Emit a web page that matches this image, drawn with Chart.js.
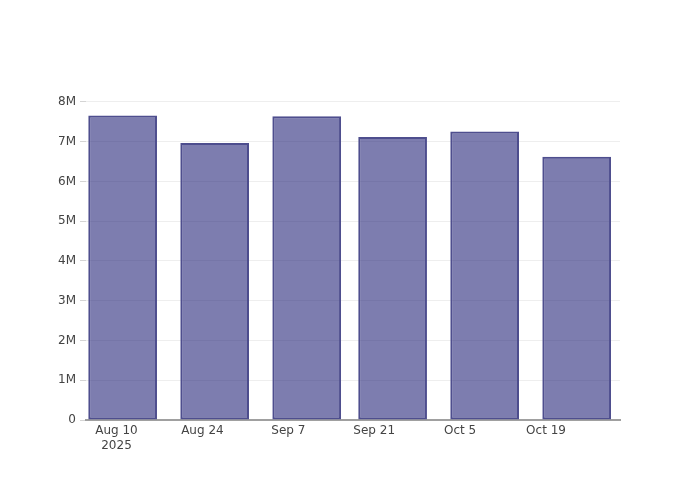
<!DOCTYPE html>
<html>
<head>
<meta charset="utf-8">
<script src="https://cdn.jsdelivr.net/npm/chart.js@4/dist/chart.umd.min.js"></script>
<style>
  body { margin: 0; background: #fff; }
</style>
</head>
<body>
<canvas id="myChart" width="700" height="500"></canvas>
<script>
// bar dates and values
const barDates = ['2025-08-11', '2025-08-26', '2025-09-10', '2025-09-24', '2025-10-09', '2025-10-24'];
const barValues = [7660000, 6970000, 7640000, 7120000, 7260000, 6620000];

// x axis ticks, in days from Aug 10 2025
const xTickDays = [0, 14, 28, 42, 56, 70];
const xTickLabels = [['Aug 10', '2025'], 'Aug 24', 'Sep 7', 'Sep 21', 'Oct 5', 'Oct 19'];

const yTickValues = [0, 1000000, 2000000, 3000000, 4000000, 5000000, 6000000, 7000000, 8000000];
const yTickLabels = ['0', '1M', '2M', '3M', '4M', '5M', '6M', '7M', '8M'];

const startDay = Date.UTC(2025, 7, 10);
function dayOffset(s) {
  var p = s.split('-');
  return (Date.UTC(+p[0], +p[1] - 1, +p[2]) - startDay) / 86400000;
}

const points = barDates.map(function (d, i) {
  return { x: dayOffset(d), y: barValues[i] };
});

Chart.defaults.font.family = '"DejaVu Sans", sans-serif';
Chart.defaults.font.size = 12;
Chart.defaults.color = '#444';

var ctx = document.getElementById('myChart');

new Chart(ctx, {
  type: 'bar',
  data: {
    datasets: [{
      data: points,
      backgroundColor: 'rgba(38, 38, 122, 0.6)',
      borderColor: 'rgb(78, 78, 142)',
      borderWidth: 2,
      borderSkipped: false,
      barPercentage: 0.8,
      categoryPercentage: 1
    }]
  },
  options: {
    responsive: false,
    animation: false,
    layout: { padding: { top: 100, right: 80, bottom: 0, left: 0 } },
    plugins: {
      legend: { display: false },
      tooltip: { enabled: false }
    },
    scales: {
      x: {
        type: 'linear',
        offset: false,
        min: -4.97,
        max: 82.06,
        grid: { display: false, drawTicks: false },
        border: { display: true, color: '#a0a0a0', width: 2 },
        afterBuildTicks: function (scale) {
          scale.ticks = xTickDays.map(function (v) { return { value: v }; });
        },
        afterFit: function (scale) { scale.height = 80; },
        ticks: {
          padding: 4,
          maxRotation: 0,
          autoSkip: false,
          callback: function (value, index) { return xTickLabels[index]; }
        }
      },
      y: {
        min: 0,
        max: 8050000,
        afterBuildTicks: function (scale) {
          scale.ticks = yTickValues.map(function (v) { return { value: v }; });
        },
        afterFit: function (scale) { scale.width = 86; },
        grid: { color: '#eeeeee', tickColor: '#d4d4d4', tickLength: 6, drawTicks: true },
        border: { display: false },
        ticks: {
          padding: 4,
          callback: function (value, index) { return yTickLabels[index]; }
        }
      }
    }
  }
});
</script>
</body>
</html>
